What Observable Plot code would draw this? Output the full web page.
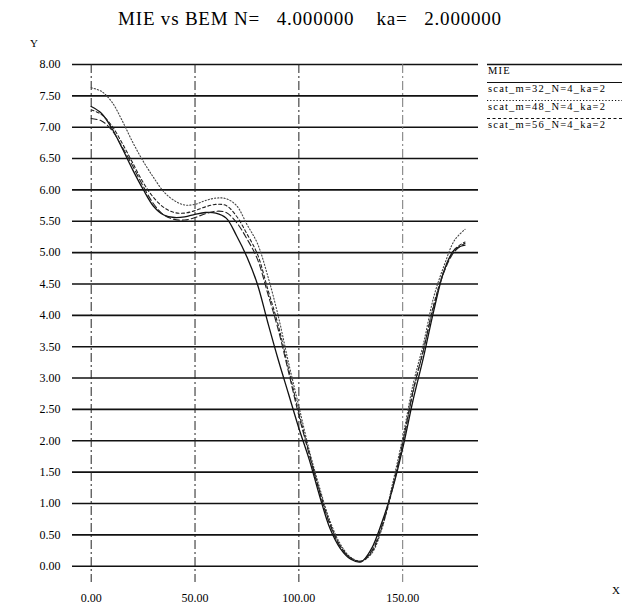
<!DOCTYPE html>
<html><head><meta charset="utf-8">
<script src="https://cdn.jsdelivr.net/npm/d3@7"></script>
<script src="https://cdn.jsdelivr.net/npm/@observablehq/plot@0.6"></script>
<style>
body{margin:0;background:#fff}
#wrap{position:relative;width:622px;height:609px}
#wrap svg{position:absolute;left:0;top:0}
</style>
</head><body><div id="wrap"></div>
<script>
const xs = [0,5,10,15,20,25,30,35,40,45,50,55,60,65,70,75,80,85,90,95,100,105,110,115,120,125,130,135,140,145,150,155,160,165,170,175,180];
const mie    = [7.33,7.22,6.98,6.66,6.32,6.01,5.74,5.60,5.56,5.57,5.61,5.64,5.63,5.55,5.27,4.93,4.50,3.89,3.30,2.75,2.20,1.70,1.12,0.60,0.28,0.11,0.07,0.28,0.70,1.22,1.88,2.65,3.33,4.08,4.72,5.05,5.12];
const scat32 = [7.63,7.57,7.40,7.10,6.76,6.46,6.20,5.97,5.83,5.76,5.77,5.83,5.87,5.86,5.75,5.45,5.15,4.63,4.00,3.25,2.55,1.85,1.25,0.72,0.35,0.14,0.08,0.20,0.60,1.30,2.05,2.90,3.55,4.30,4.80,5.20,5.37];
const scat48 = [7.28,7.20,7.02,6.74,6.43,6.12,5.88,5.72,5.64,5.63,5.67,5.73,5.77,5.75,5.58,5.30,4.98,4.42,3.85,3.15,2.45,1.80,1.20,0.68,0.32,0.13,0.08,0.22,0.62,1.22,1.95,2.78,3.45,4.18,4.72,5.05,5.17];
const scat56 = [7.14,7.10,6.95,6.68,6.38,6.06,5.78,5.60,5.53,5.52,5.56,5.62,5.66,5.64,5.48,5.22,4.90,4.35,3.78,3.10,2.40,1.78,1.18,0.66,0.31,0.13,0.08,0.24,0.65,1.25,1.97,2.80,3.45,4.15,4.70,5.02,5.15];
const seriesNames = ["MIE","scat_m=32_N=4_ka=2","scat_m=48_N=4_ka=2","scat_m=56_N=4_ka=2"];
const yTicks = [0,0.5,1,1.5,2,2.5,3,3.5,4,4.5,5,5.5,6,6.5,7,7.5,8];
const xTicks = [0,50,100,150];
const titleText = "MIE vs BEM N=   4.000000    ka=   2.000000";

const dashes = ["none","1.2,2","3,2.5","6,3"];
const strokes = ["#111","#444","#222","#222"];
const series = [mie, scat32, scat48, scat56];
const rows = [];
series.forEach((arr,i)=>arr.forEach((v,j)=>rows.push({x:xs[j], y:v, s:seriesNames[i]})));

const plot = Plot.plot({
  width:622, height:609,
  marginLeft:72, marginRight:144, marginTop:64, marginBottom:27,
  x:{domain:[-9,186.5]},
  y:{domain:[-0.26,8]},
  style:{fontFamily:"'Liberation Serif', serif", background:"white", color:"black"},
  marks:[
    Plot.ruleY(yTicks, {stroke:"#111", strokeWidth:1.6}),
    Plot.ruleX(xTicks, {stroke:(d)=>d===150?"#777":"#222", strokeWidth:1, strokeDasharray:"9,3,2,3"}),
    ...seriesNames.map((n,i)=>Plot.line(rows.filter(r=>r.s===n), {x:"x", y:"y", curve:"catmull-rom", stroke:strokes[i], strokeWidth:i===0?1.3:1.1, strokeDasharray:dashes[i]})),
    Plot.axisY({ticks:yTicks, tickFormat:d=>d.toFixed(2), tickSize:0, tickPadding:12, label:null, fontSize:12}),
    Plot.axisX({ticks:xTicks, tickFormat:d=>d.toFixed(2), tickSize:0, tickPadding:11, label:null, fontSize:12})
  ]
});
document.getElementById("wrap").appendChild(plot);

// overlay: title, axis letters, legend
const svg = d3.select("#wrap").append("svg").attr("width",622).attr("height",609)
  .style("font-family","'Liberation Serif', serif").style("pointer-events","none");
svg.append("text").attr("x",310).attr("y",25).attr("text-anchor","middle")
  .style("font-size","19px").style("letter-spacing","0.8px").style("white-space","pre").text(titleText);
svg.append("text").attr("x",30).attr("y",47).style("font-size","11px").text("Y");
svg.append("text").attr("x",612).attr("y",594).style("font-size","11px").text("X");

const lg = svg.append("g");
lg.append("line").attr("x1",487).attr("x2",622).attr("y1",64.5).attr("y2",64.5).attr("stroke","#111").attr("stroke-width",1.4);
seriesNames.forEach((n,i)=>{
  lg.append("text").attr("x",488).attr("y",74+18*i).style("font-size","10.5px").style("letter-spacing","1.2px").text(n);
  if(i<3){
    lg.append("line").attr("x1",487).attr("x2",622).attr("y1",82.5+18*i).attr("y2",82.5+18*i)
      .attr("stroke","#111").attr("stroke-width",1.1).attr("stroke-dasharray",dashes[i]);
  }
});
</script>
</body></html>
